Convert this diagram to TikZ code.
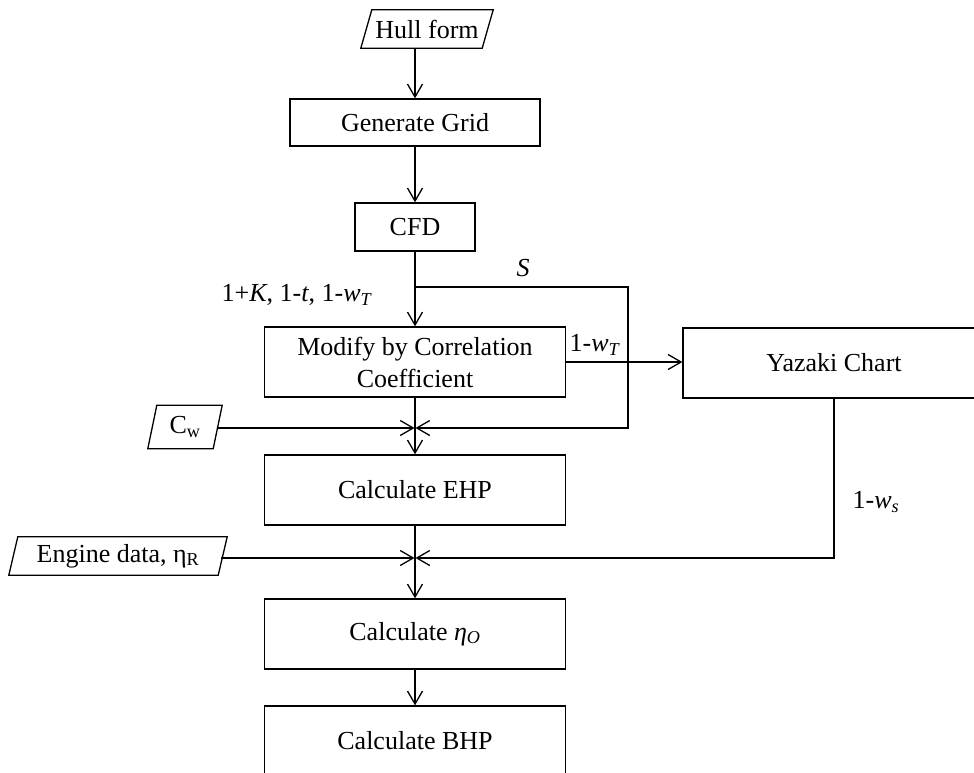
\documentclass[tikz,border=0pt]{standalone}
\usepackage{fontspec}
\setmainfont{Liberation Serif}
\usetikzlibrary{arrows.meta}
\begin{document}
\begin{tikzpicture}[x=1pt,y=-1pt,
  every node/.style={font=\fontsize{26}{32}\selectfont, inner sep=0pt},
  box/.style={draw, line width=1.3pt, minimum width=301pt, minimum height=70pt, align=center},
  iobox/.style={minimum height=38pt},
  wire/.style={line width=1.3pt},
  arr/.style={wire, -{Straight Barb[length=13pt,width=15pt]}}]
\useasboundingbox (0,0) rectangle (974,773);

% process boxes
\node[box, minimum width=250pt, minimum height=47pt] (gg) at (415,122.5) {Generate Grid};
\node[box, minimum width=120pt, minimum height=48pt] (cfd) at (415,227) {CFD};
\node[box] (mod) at (415,362) {Modify by Correlation\\Coefficient};
\node[box, minimum width=302pt] (yaz) at (834,363) {Yazaki Chart};
\node[box] (ehp) at (415,490) {Calculate EHP};
\node[box] (eta) at (415,634) {Calculate {\itshape η}\textsubscript{\itshape O}};
\node[box] (bhp) at (415,741) {Calculate BHP};

% data (parallelogram) boxes
\node[iobox, minimum width=132pt] (hull) at (427,29) {Hull form};
\node[iobox, minimum width=74pt, minimum height=43pt] (cw) at (185,427) {C\textsubscript{w}};
\node[iobox, minimum width=218pt] (eng) at (118,556) {Engine data, η\textsubscript{R}};
\draw[wire] ([xshift=11pt]hull.north west) -- (hull.north east) -- ([xshift=-11pt]hull.south east) -- (hull.south west) -- cycle;
\draw[wire] ([xshift=9pt]cw.north west) -- (cw.north east) -- ([xshift=-9pt]cw.south east) -- (cw.south west) -- cycle;
\draw[wire] ([xshift=9pt]eng.north west) -- (eng.north east) -- ([xshift=-9pt]eng.south east) -- (eng.south west) -- cycle;

% junctions and corners
\coordinate (b1) at (415,287);
\coordinate (sc) at (628,287);
\coordinate (sd) at (628,428);
\coordinate (j1) at (415,428);
\coordinate (j2) at (415,558);

% connectors
\draw[arr] (gg.north |- hull.south) -- (gg.north);
\draw[arr] (gg.south) -- (cfd.north);
\draw[arr] (cfd.south) -- (mod.north);
\draw[arr, shorten >=-1.5pt] (b1) -- (sc) -- (sd) -- ([xshift=2pt]j1);
\draw[arr, shorten >=-1.5pt] ([xshift=-4.5pt]cw.east |- j1) -- ([xshift=-2pt]j1);
\draw[wire] (mod.south) -- (j1);
\draw[arr] (j1) -- (ehp.north);
\draw[arr] (mod.east) -- (mod.east -| yaz.west);
\draw[arr, shorten >=-1.5pt] (yaz.south) |- ([xshift=2pt]j2);
\draw[arr, shorten >=-1.5pt] ([xshift=-6pt]eng.east |- j2) -- ([xshift=-2pt]j2);
\draw[wire] (ehp.south) -- (j2);
\draw[arr] (j2) -- (eta.north);
\draw[arr] (eta.south) -- (bhp.north);

% connector labels
\node (lS) at (523,268) {\textit{S}};
\node (lK) at (297,295) {1+\textit{K}, 1-\textit{t}, 1-\textit{w}\textsubscript{\textit{T}}};
\node (lT) at (595,345) {1-\textit{w}\textsubscript{\textit{T}}};
\node (lws) at (876,502) {1-\textit{w}\textsubscript{\textit{s}}};
\end{tikzpicture}
\end{document}
